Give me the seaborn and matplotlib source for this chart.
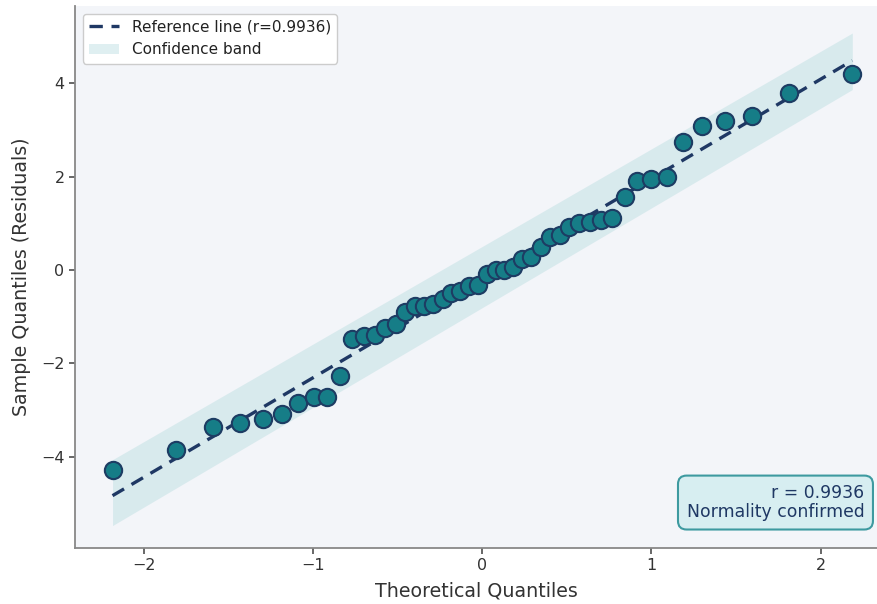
import numpy as np
import pandas as pd
import seaborn as sns
import matplotlib
matplotlib.use("Agg")
import matplotlib.pyplot as plt
from matplotlib.lines import Line2D
from matplotlib.patches import Patch

# Theoretical quantiles (48 points)
theoretical = [-2.188, -1.815, -1.594, -1.432, -1.300, -1.188, -1.089, -0.999,
               -0.917, -0.841, -0.769, -0.701, -0.637, -0.574, -0.514, -0.456,
               -0.399, -0.344, -0.290, -0.236, -0.183, -0.130, -0.078, -0.026,
               0.026, 0.078, 0.130, 0.183, 0.236, 0.290, 0.344, 0.399,
               0.456, 0.514, 0.574, 0.637, 0.701, 0.769, 0.841, 0.917,
               0.999, 1.089, 1.188, 1.300, 1.432, 1.594, 1.815, 2.188]

# Sample quantiles (residuals)
residuals = [-4.27, -3.85, -3.36, -3.28, -3.19, -3.08, -2.85, -2.71,
             -2.71, -2.26, -1.47, -1.41, -1.39, -1.24, -1.16, -0.89,
             -0.78, -0.76, -0.72, -0.62, -0.50, -0.46, -0.34, -0.32,
             -0.08, 0.00, -0.01, 0.06, 0.23, 0.28, 0.50, 0.71,
             0.74, 0.93, 1.00, 1.02, 1.06, 1.12, 1.57, 1.91,
             1.95, 2.00, 2.73, 3.09, 3.18, 3.30, 3.79, 4.19]

# Confidence band offsets at the two ends (below / above the line)
band_lower_offset = [0.64, 0.62]
band_upper_offset = [0.77, 0.59]

r_value = 0.9936
xticks = [-2, -1, 0, 1, 2]
yticks = [-4, -2, 0, 2, 4]

df = pd.DataFrame({"theoretical": theoretical, "residuals": residuals})

sns.set_theme(style="ticks")
plt.rcParams["font.family"] = ["DejaVu Sans"]

fig = plt.figure(figsize=(8.78, 6.04), dpi=100)
ax = fig.add_axes([75 / 878, 56 / 604, 803 / 878, 542 / 604])
ax.set_facecolor("#f3f5f9")

slope, intercept = np.polyfit(df["theoretical"], df["residuals"], 1)
xl = np.array([min(theoretical), max(theoretical)])
yl = slope * xl + intercept

ax.fill_between(xl, yl - np.array(band_lower_offset), yl + np.array(band_upper_offset),
                color="#b9dde0", alpha=0.45, linewidth=0, zorder=1)
ax.plot(xl, yl, linestyle=(0, (4, 2.6)), color="#1f3864", linewidth=2.4, zorder=2)

sns.scatterplot(data=df, x="theoretical", y="residuals", ax=ax, s=155,
                color="#167d87", edgecolor="#1d3c63", linewidth=1.5, zorder=3,
                legend=False)

ax.set_xlim(-2.41, 2.34)
ax.set_ylim(-5.95, 5.65)
ax.set_xticks(xticks)
ax.set_yticks(yticks)
ax.tick_params(labelsize=11.5, colors="#333333", length=4, color="#555555")
ax.set_xlabel("Theoretical Quantiles", fontsize=13.7, color="#333333", labelpad=6)
ax.set_ylabel("Sample Quantiles (Residuals)", fontsize=13.7, color="#333333", labelpad=7)
for sp in ["left", "bottom"]:
    ax.spines[sp].set_color("#888888")
    ax.spines[sp].set_linewidth(1.3)
sns.despine(ax=ax)

handles = [Line2D([0], [0], linestyle=(0, (4, 2.6)), color="#1f3864", linewidth=2.4),
           Patch(facecolor="#b9dde0", alpha=0.45, edgecolor="none")]
labels = [f"Reference line (r={r_value:.4f})", "Confidence band"]
leg = ax.legend(handles, labels, loc="upper left", fontsize=11, frameon=True,
                facecolor="white", edgecolor="#cccccc", framealpha=1,
                borderaxespad=0.5, handlelength=2.0)
for t in leg.get_texts():
    t.set_color("#222222")

ax.text(0.983, 0.050, f"r = {r_value:.4f}\nNormality confirmed",
        transform=ax.transAxes, ha="right", va="bottom", fontsize=12.4,
        color="#1f3864", multialignment="right", linespacing=1.05,
        bbox=dict(boxstyle="round,pad=0.5", facecolor="#d7eef1",
                  edgecolor="#3d9aa0", linewidth=1.5), zorder=5)

fig.savefig("out.png", dpi=100)
